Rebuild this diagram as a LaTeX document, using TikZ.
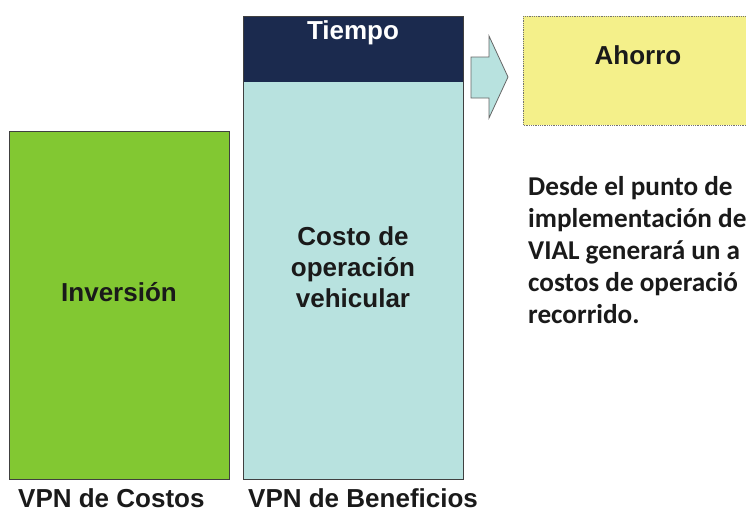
\documentclass[tikz,border=0pt]{standalone}
\usepackage{fontspec}
\setmainfont{Liberation Sans}
\newfontfamily\carl{Carlito}
\definecolor{cgreen}{HTML}{82C832}
\definecolor{cteal}{HTML}{B8E2DF}
\definecolor{cnavy}{HTML}{1B2A4E}
\definecolor{cyell}{HTML}{F4F08A}
\definecolor{ctext}{HTML}{1A1A1A}
\tikzset{
  box/.style={draw=black!75, line width=0.8pt},
  lbl/.style={font=\fontsize{26}{31}\selectfont\bfseries, text=ctext, align=center, inner sep=0pt},
  para/.style={font=\carl\fontsize{27.2}{32}\selectfont\bfseries, text=ctext, inner sep=0pt, anchor=base west}
}
\begin{document}
\begin{tikzpicture}[x=1pt,y=-1pt]
\useasboundingbox (0,0) rectangle (746,514);
\clip (0,0) rectangle (746,514);
\fill[white] (0,0) rectangle (746,514);
% green box
\draw[box, fill=cgreen] (9,131) rectangle (229,479);
\node[lbl] (inv) at (119,292) {Inversión};
% blue box
\draw[box, fill=cteal] (243,16) rectangle (463,479);
\fill[cnavy] (243,16) rectangle (463,82);
\draw[box] (243,16) rectangle (463,479);
\node[lbl, text=white] (tiempo) at (353,33) {Tiempo};
\node[lbl] (costo) at (353,267) {Costo de\\operación\\vehicular};
% arrow
\draw[draw=black!60, line width=0.8pt, fill=cteal, line join=miter]
  (471,57) -- (489,57) -- (489,36) -- (508,77) -- (489,118) -- (489,98) -- (471,98) -- cycle;
% yellow box
\draw[draw=black!55, densely dotted, line width=0.8pt, fill=cyell] (523,16) rectangle (752,125);
\node[lbl] (ahorro) at (638,55) {Ahorro};
% paragraph (cut at the right edge, as in the reference)
\node[para] (p1) at (528,195) {Desde el punto de};
\node[para] (p2) at (528,227) {implementación de};
\node[para] (p3) at (528,259) {VIAL generará un a};
\node[para] (p4) at (528,291) {costos de operació};
\node[para] (p5) at (528,323) {recorrido.};
% bottom labels
\node[lbl, anchor=base west] (vpnc) at (18,507) {VPN de Costos};
\node[lbl, anchor=base west] (vpnb) at (248,507) {VPN de Beneficios};
\end{tikzpicture}
\end{document}
